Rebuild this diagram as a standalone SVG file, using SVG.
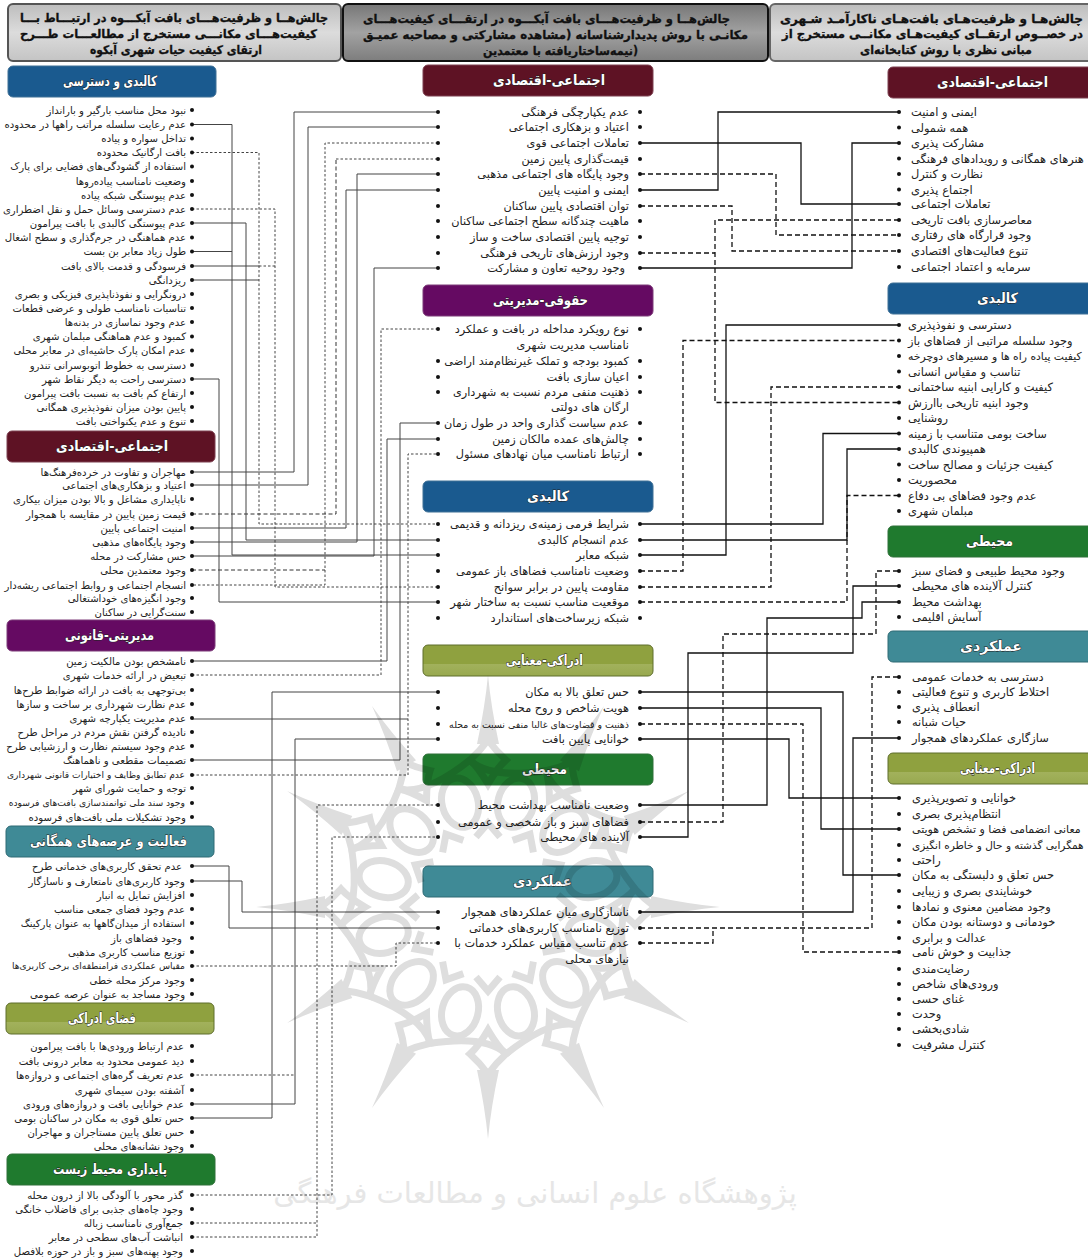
<svg xmlns="http://www.w3.org/2000/svg" xmlns:xlink="http://www.w3.org/1999/xlink" width="1088" height="1258" viewBox="0 0 1088 1258">
<style>
text{font-family:"DejaVu Sans","Noto Sans",sans-serif}
.t{font-size:10.1px;fill:#222}
#middle-items .t{font-size:11.3px}
#right-items .t{font-size:11.4px}
.l{text-anchor:end}
.r{text-anchor:start}
.h{font-size:14px;font-weight:bold;fill:#fff;text-anchor:start;stroke:#222;stroke-width:1px;paint-order:stroke}
.ti{font-size:12px;font-weight:bold;fill:#111;text-anchor:start;stroke:#111;stroke-width:.3px}
.b{fill:#111}
.box{stroke-width:1}
.blue{fill:#1a5a8f;stroke:#3f7096}
.red{fill:#5e1224;stroke:#7d4050}
.pur{fill:#650a62;stroke:#7c3a78}
.teal{fill:#3f8a96;stroke:#2f6a75}
.olv{fill:url(#go);stroke:#5f6e2c}
.grn{fill:#1f7a2e;stroke:#2f7038}
.a{fill:none;stroke:#444;stroke-width:1}
.ad{fill:none;stroke:#444;stroke-width:1;stroke-dasharray:2.5 2}
.am{fill:none;stroke:#333;stroke-width:1;stroke-dasharray:4 2.5}
.c{fill:none;stroke:#111;stroke-width:1.3}
.cd{fill:none;stroke:#111;stroke-width:1.3;stroke-dasharray:5 3}
.w{fill:none;stroke:#000;stroke-width:7}
.ws{fill:#000}
</style>
<defs>
<linearGradient id="g1" x1="0" y1="0" x2="0" y2="1"><stop offset="0" stop-color="#bdbdbd"/><stop offset=".5" stop-color="#dcdcdc"/><stop offset="1" stop-color="#c4c4c4"/></linearGradient>
<linearGradient id="g2" x1="0" y1="0" x2="0" y2="1"><stop offset="0" stop-color="#777"/><stop offset=".5" stop-color="#a2a2a2"/><stop offset="1" stop-color="#7d7d7d"/></linearGradient>
<linearGradient id="go" x1="0" y1="0" x2="0" y2="1"><stop offset="0" stop-color="#8fa13f"/><stop offset=".6" stop-color="#8fa13f"/><stop offset=".62" stop-color="#a2b15c"/><stop offset="1" stop-color="#98a94f"/></linearGradient>
<g id="sector">
<ellipse cx="0" cy="108" rx="18" ry="25" class="w" transform="rotate(15)"/>
<path d="M0,123Q10,140 18,147Q8,156 0,167Q-8,156 -18,147Q-10,140 0,123Z" class="w"/>
<path d="M18,147Q62,112 89,118" class="w"/>
<path d="M-11,163Q-3,200 0,232Q3,200 11,163Z" class="ws"/>
<path d="M-12,70L0,84L12,70" class="w"/>
</g>
</defs>
<rect width="1088" height="1258" fill="#fff"/>
<text x="535" y="1203" font-size="29" fill="#e6e6e6" text-anchor="middle">پژوهشگاه علوم انسانی و مطالعات فرهنگی</text>

<g id="title-1"><rect x="8" y="4" width="333" height="57" rx="5" fill="url(#g1)" stroke="#555" stroke-width="2"/>
<text class="ti" x="20" y="22" textLength="308" lengthAdjust="spacingAndGlyphs">چالش‌هــا و ظرفیت‌هـــای بافت آبکـــوه در ارتبـــاط بـــا</text>
<text class="ti" x="20" y="38" textLength="297" lengthAdjust="spacingAndGlyphs">کیفیت‌هـــای مکانـــی مستخرج از مطالعـــات طـــرح</text>
<text class="ti" x="90" y="54" textLength="172" lengthAdjust="spacingAndGlyphs">ارتقای کیفیت حیات شهری آبکوه</text></g>
<g id="title-2"><rect x="343" y="4" width="425" height="57" rx="5" fill="url(#g2)" stroke="#111" stroke-width="2"/>
<text class="ti" x="363" y="23" textLength="367" lengthAdjust="spacingAndGlyphs">چالش‌هــا و ظرفیت‌هـــای بافت آبکـــوه در ارتقـــای کیفیت‌هـــای</text>
<text class="ti" x="363" y="39" textLength="385" lengthAdjust="spacingAndGlyphs">مکانـی با روش پدیدارشناسانه (مشاهده مشارکتی و مصاحبه عمیـق</text>
<text class="ti" x="483" y="55" textLength="155" lengthAdjust="spacingAndGlyphs">نیمه‌ساختاریافته با معتمدین)</text></g>
<g id="title-3"><rect x="770" y="4" width="330" height="57" rx="5" fill="url(#g1)" stroke="#666" stroke-width="2"/>
<text class="ti" x="780" y="23" textLength="303" lengthAdjust="spacingAndGlyphs">چالش‌هـا و ظرفیت‌هـای بافت‌هـای ناکارآمـد شـهری</text>
<text class="ti" x="782" y="38" textLength="301" lengthAdjust="spacingAndGlyphs">در خصــوص ارتقــای کیفیت‌هـای مکانــی مستخرج از</text>
<text class="ti" x="860" y="54" textLength="172" lengthAdjust="spacingAndGlyphs">مبانی نظری با روش کتابخانه‌ای</text></g>

<g id="headers">
<g id="h-l1"><rect class="box blue" x="8" y="66" width="208" height="31" rx="5"/><text class="h" x="63" y="86" textLength="94" lengthAdjust="spacingAndGlyphs">کالبدی و دسترسی</text></g>
<g id="h-l2"><rect class="box red" x="7" y="431" width="208" height="31" rx="5"/><text class="h" x="56" y="451" textLength="112" lengthAdjust="spacingAndGlyphs">اجتماعی-اقتصادی</text></g>
<g id="h-l3"><rect class="box pur" x="7" y="620" width="208" height="31" rx="5"/><text class="h" x="65" y="640" textLength="89" lengthAdjust="spacingAndGlyphs">مدیریتی-قانونی</text></g>
<g id="h-l4"><rect class="box teal" x="6" y="826" width="208" height="31" rx="5"/><text class="h" x="30" y="846" textLength="157" lengthAdjust="spacingAndGlyphs">فعالیت و عرصه‌های همگانی</text></g>
<g id="h-l5"><rect class="box olv" x="6" y="1003" width="208" height="31" rx="5"/><text class="h" x="68" y="1023" textLength="68" lengthAdjust="spacingAndGlyphs">فضای ادراکی</text></g>
<g id="h-l6"><rect class="box grn" x="7" y="1154" width="208" height="31" rx="5"/><text class="h" x="53" y="1174" textLength="114" lengthAdjust="spacingAndGlyphs">پایداری محیط زیست</text></g>
<g id="h-m1"><rect class="box red" x="423" y="65" width="230" height="31" rx="5"/><text class="h" x="493" y="85" textLength="112" lengthAdjust="spacingAndGlyphs">اجتماعی-اقتصادی</text></g>
<g id="h-m2"><rect class="box pur" x="423" y="285" width="230" height="31" rx="5"/><text class="h" x="493" y="305" textLength="95" lengthAdjust="spacingAndGlyphs">حقوقی-مدیریتی</text></g>
<g id="h-m3"><rect class="box blue" x="423" y="481" width="230" height="31" rx="5"/><text class="h" x="527" y="501" textLength="42" lengthAdjust="spacingAndGlyphs">کالبدی</text></g>
<g id="h-m4"><rect class="box olv" x="423" y="645" width="230" height="31" rx="5"/><text class="h" x="506" y="665" textLength="77" lengthAdjust="spacingAndGlyphs">ادراکی-معنایی</text></g>
<g id="h-m5"><rect class="box grn" x="423" y="754" width="230" height="31" rx="5"/><text class="h" x="522" y="774" textLength="45" lengthAdjust="spacingAndGlyphs">محیطی</text></g>
<g id="h-m6"><rect class="box teal" x="423" y="866" width="230" height="31" rx="5"/><text class="h" x="513" y="886" textLength="59" lengthAdjust="spacingAndGlyphs">عملکردی</text></g>
<g id="h-r1"><rect class="box red" x="888" y="67" width="215" height="31" rx="5"/><text class="h" x="937" y="87" textLength="111" lengthAdjust="spacingAndGlyphs">اجتماعی-اقتصادی</text></g>
<g id="h-r2"><rect class="box blue" x="888" y="283" width="215" height="31" rx="5"/><text class="h" x="977" y="303" textLength="41" lengthAdjust="spacingAndGlyphs">کالبدی</text></g>
<g id="h-r3"><rect class="box grn" x="888" y="526" width="215" height="31" rx="5"/><text class="h" x="966" y="546" textLength="47" lengthAdjust="spacingAndGlyphs">محیطی</text></g>
<g id="h-r4"><rect class="box teal" x="888" y="631" width="215" height="31" rx="5"/><text class="h" x="960" y="651" textLength="62" lengthAdjust="spacingAndGlyphs">عملکردی</text></g>
<g id="h-r5"><rect class="box olv" x="888" y="753" width="215" height="31" rx="5"/><text class="h" x="960" y="773" textLength="75" lengthAdjust="spacingAndGlyphs">ادراکی-معنایی</text></g>
</g>

<g id="connectors">
<path class="a" d="M192 472H294V112H438"/>
<path class="a" d="M192 485H308V127H438"/>
<path class="ad" d="M438 143H325V585H192"/>
<path class="am" d="M192 570H325"/>
<path class="am" d="M192 514H336V159"/>
<path class="ad" d="M336 159H438"/>
<path class="a" d="M192 542H357V174H438"/>
<path class="a" d="M192 528H346V190H438"/>
<path class="a" d="M192 556H374V268H438"/>
<path class="ad" d="M192 152.500H259V524H438"/>
<path class="a" d="M192 223H246V540H438"/>
<path class="a" d="M192 124.500H232V555H438"/>
<path class="a" d="M192 251.500H232"/>
<path class="ad" d="M192 209H275V587H438"/>
<path class="a" d="M192 266H259"/>
<path class="ad" d="M259 266H275"/>
<path class="a" d="M192 280H259"/>
<path class="a" d="M192 379H219V602H438"/>
<path class="a" d="M192 760H400V423H438"/>
<path class="a" d="M192 661H387V439H438"/>
<path class="ad" d="M192 775H408V454H438"/>
<path class="ad" d="M192 675H381V329H438"/>
<path class="a" d="M192 719H408"/>
<path class="a" d="M192 1118H272V692H438"/>
<path class="a" d="M192 1104H295V739H438"/>
<path class="ad" d="M192 1075H295"/>
<path class="ad" d="M192 1237H317V805H438"/>
<path class="ad" d="M192 1223H317"/>
<path class="ad" d="M192 1195H332V837H438"/>
<path class="a" d="M192 881H242V912H438"/>
<path class="a" d="M192 866H229V928H438"/>
<path class="ad" d="M192 966H396V943H438"/>
<path class="c" d="M640 190H718V112H899"/>
<path class="c" d="M640 143H801V204H899"/>
<path class="c" d="M640 268H852V143H899"/>
<path class="cd" d="M640 174H776V235H899"/>
<path class="cd" d="M640 206H732V251H899"/>
<path class="cd" d="M640 253H715"/>
<path class="cd" d="M899 220H715V402.500H899"/>
<path class="cd" d="M640 571H683V340.500H899"/>
<path class="c" d="M640 555H726V325H899"/>
<path class="cd" d="M640 587H771V387H899"/>
<path class="c" d="M640 524H823V433.500H899"/>
<path class="cd" d="M640 602H847V495.500H899"/>
<path class="c" d="M640 540H847V449H899"/>
<path class="cd" d="M640 822H723V634H876V571H899"/>
<path class="c" d="M640 837H688V653H853V586H899"/>
<path class="c" d="M640 805H767V618H862V602H899"/>
<path class="c" d="M640 912H853V738H899"/>
<path class="cd" d="M640 928H872V677H899"/>
<path class="cd" d="M640 943H713V928"/>
<path class="c" d="M640 692H843V875H899"/>
<path class="c" d="M640 708H821V829H899"/>
<path class="cd" d="M640 724H803V952H899"/>
<path class="c" d="M640 739H789V798H899"/>
</g>

<g id="left-items">
<g id="n1"><circle class="b" cx="192" cy="110" r="2"/><text class="t l" x="186" y="113.500">نبود محل مناسب بارگیر و بارانداز</text></g>
<g id="n2"><circle class="b" cx="192" cy="124.500" r="2"/><text class="t l" x="186" y="128">عدم رعایت سلسله مراتب راهها در محدوده</text></g>
<g id="n3"><circle class="b" cx="192" cy="138.500" r="2"/><text class="t l" x="186" y="142">تداخل سواره و پیاده</text></g>
<g id="n4"><circle class="b" cx="192" cy="152.500" r="2"/><text class="t l" x="186" y="156">بافت ارگانیک محدوده</text></g>
<g id="n5"><circle class="b" cx="192" cy="166.500" r="2"/><text class="t l" x="186" y="170">استفاده از گشودگی‌های فضایی برای پارک</text></g>
<g id="n6"><circle class="b" cx="192" cy="181" r="2"/><text class="t l" x="186" y="184.500">وضعیت نامناسب پیاده‌روها</text></g>
<g id="n7"><circle class="b" cx="192" cy="195" r="2"/><text class="t l" x="186" y="198.500">عدم پیوستگی شبکه پیاده</text></g>
<g id="n8"><circle class="b" cx="192" cy="209" r="2"/><text class="t l" x="186" y="212.500">عدم دسترسی وسائل حمل و نقل اضطراری</text></g>
<g id="n9"><circle class="b" cx="192" cy="223" r="2"/><text class="t l" x="186" y="226.500">عدم پیوستگی کالبدی با بافت پیرامون</text></g>
<g id="n10"><circle class="b" cx="192" cy="237.500" r="2"/><text class="t l" x="186" y="241">عدم هماهنگی در جرم‌گذاری و سطح اشغال</text></g>
<g id="n11"><circle class="b" cx="192" cy="251.500" r="2"/><text class="t l" x="186" y="255">طول زیاد معابر بن بست</text></g>
<g id="n12"><circle class="b" cx="192" cy="266" r="2"/><text class="t l" x="186" y="269.500">فرسودگی و قدمت بالای بافت</text></g>
<g id="n13"><circle class="b" cx="192" cy="280" r="2"/><text class="t l" x="186" y="283.500">ریزدانگی</text></g>
<g id="n14"><circle class="b" cx="192" cy="294" r="2"/><text class="t l" x="186" y="297.500">درونگرایی و نفوذناپذیری فیزیکی و بصری</text></g>
<g id="n15"><circle class="b" cx="192" cy="308" r="2"/><text class="t l" x="186" y="311.500">تناسبات نامناسب طولی و عرضی قطعات</text></g>
<g id="n16"><circle class="b" cx="192" cy="322" r="2"/><text class="t l" x="186" y="325.500">عدم وجود نماسازی در بدنه‌ها</text></g>
<g id="n17"><circle class="b" cx="192" cy="336.500" r="2"/><text class="t l" x="186" y="340">کمبود و عدم هماهنگی مبلمان شهری</text></g>
<g id="n18"><circle class="b" cx="192" cy="350.500" r="2"/><text class="t l" x="186" y="354">عدم امکان پارک حاشیه‌ای در معابر محلی</text></g>
<g id="n19"><circle class="b" cx="192" cy="365" r="2"/><text class="t l" x="186" y="368.500">دسترسی به خطوط اتوبوسرانی تندرو</text></g>
<g id="n20"><circle class="b" cx="192" cy="379" r="2"/><text class="t l" x="186" y="382.500">دسترسی راحت به دیگر نقاط شهر</text></g>
<g id="n21"><circle class="b" cx="192" cy="393" r="2"/><text class="t l" x="186" y="396.500">ارتفاع کم بافت به نسبت بافت پیرامون</text></g>
<g id="n22"><circle class="b" cx="192" cy="407" r="2"/><text class="t l" x="186" y="410.500">پایین بودن میزان نفوذپذیری همگانی</text></g>
<g id="n23"><circle class="b" cx="192" cy="421" r="2"/><text class="t l" x="186" y="424.500">تنوع و عدم یکنواختی بافت</text></g>
<g id="n24"><circle class="b" cx="192" cy="472" r="2"/><text class="t l" x="186" y="475.500">مهاجران و تفاوت در خرده‌فرهنگ‌ها</text></g>
<g id="n25"><circle class="b" cx="192" cy="485" r="2"/><text class="t l" x="186" y="488.500">اعتیاد و بزهکاری‌های اجتماعی</text></g>
<g id="n26"><circle class="b" cx="192" cy="499" r="2"/><text class="t l" x="186" y="502.500">ناپایداری مشاغل و بالا بودن میزان بیکاری</text></g>
<g id="n27"><circle class="b" cx="192" cy="514" r="2"/><text class="t l" x="186" y="517.500">قیمت زمین پایین در مقایسه با همجوار</text></g>
<g id="n28"><circle class="b" cx="192" cy="528" r="2"/><text class="t l" x="186" y="531.500">امنیت اجتماعی پایین</text></g>
<g id="n29"><circle class="b" cx="192" cy="542" r="2"/><text class="t l" x="186" y="545.500">وجود پایگاه‌های مذهبی</text></g>
<g id="n30"><circle class="b" cx="192" cy="556" r="2"/><text class="t l" x="186" y="559.500">حس مشارکت در محله</text></g>
<g id="n31"><circle class="b" cx="192" cy="570" r="2"/><text class="t l" x="186" y="573.500">وجود معتمدین محلی</text></g>
<g id="n32"><circle class="b" cx="192" cy="585" r="2"/><text class="t l" x="186" y="588.500">انسجام اجتماعی و روابط اجتماعی ریشه‌دار</text></g>
<g id="n33"><circle class="b" cx="192" cy="598" r="2"/><text class="t l" x="186" y="601.500">وجود انگیزه‌های خوداشتغالی</text></g>
<g id="n34"><circle class="b" cx="192" cy="612" r="2"/><text class="t l" x="186" y="615.500">سنت‌گرایی در ساکنان</text></g>
<g id="n35"><circle class="b" cx="192" cy="661" r="2"/><text class="t l" x="186" y="664.500">نامشخص بودن مالکیت زمین</text></g>
<g id="n36"><circle class="b" cx="192" cy="675" r="2"/><text class="t l" x="186" y="678.500">تبعیض در ارائه خدمات شهری</text></g>
<g id="n37"><circle class="b" cx="192" cy="690" r="2"/><text class="t l" x="186" y="693.500">بی‌توجهی به بافت در ارائه ضوابط طرح‌ها</text></g>
<g id="n38"><circle class="b" cx="192" cy="704" r="2"/><text class="t l" x="186" y="707.500">عدم نظارت شهرداری بر ساخت و سازها</text></g>
<g id="n39"><circle class="b" cx="192" cy="718" r="2"/><text class="t l" x="186" y="721.500">عدم مدیریت یکپارچه شهری</text></g>
<g id="n40"><circle class="b" cx="192" cy="732" r="2"/><text class="t l" x="186" y="735.500">نادیده گرفتن نقش مردم در مراحل طرح</text></g>
<g id="n41"><circle class="b" cx="192" cy="746" r="2"/><text class="t l" x="186" y="749.500">عدم وجود سیستم نظارت و ارزشیابی طرح</text></g>
<g id="n42"><circle class="b" cx="192" cy="760" r="2"/><text class="t l" x="186" y="763.500">تصمیمات مقطعی و ناهماهنگ</text></g>
<g id="n43"><circle class="b" cx="192" cy="775" r="2"/><text class="t l" x="185" y="778" style="font-size:9.1px">عدم تطابق وظایف و اختیارات قانونی شهرداری</text></g>
<g id="n44"><circle class="b" cx="192" cy="788" r="2"/><text class="t l" x="186" y="791.500">توجه و حمایت شورای شهر</text></g>
<g id="n45"><circle class="b" cx="192" cy="803" r="2"/><text class="t l" x="185" y="806" style="font-size:9.2px">وجود سند ملی توانمندسازی بافت‌های فرسوده</text></g>
<g id="n46"><circle class="b" cx="192" cy="817" r="2"/><text class="t l" x="186" y="820.500">وجود تشکیلات ملی بافت‌های فرسوده</text></g>
<g id="n47"><circle class="b" cx="192" cy="866" r="2"/><text class="t l" x="182" y="869.500">عدم تحقق کاربری‌های خدماتی طرح</text></g>
<g id="n48"><circle class="b" cx="192" cy="881" r="2"/><text class="t l" x="185" y="884.500">وجود کاربری‌های نامتعارف و ناسازگار</text></g>
<g id="n49"><circle class="b" cx="192" cy="895" r="2"/><text class="t l" x="185" y="898.500">افزایش تمایل به انبار</text></g>
<g id="n50"><circle class="b" cx="192" cy="909" r="2"/><text class="t l" x="185" y="912.500">عدم وجود فضای جمعی مناسب</text></g>
<g id="n51"><circle class="b" cx="192" cy="923" r="2"/><text class="t l" x="185" y="926.500">استفاده از میدان‌گاهها به عنوان پارکینگ</text></g>
<g id="n52"><circle class="b" cx="192" cy="938" r="2"/><text class="t l" x="182" y="941.500">وجود فضاهای باز</text></g>
<g id="n53"><circle class="b" cx="192" cy="952" r="2"/><text class="t l" x="185" y="955.500">توزیع مناسب کاربری مذهبی</text></g>
<g id="n54"><circle class="b" cx="192" cy="966" r="2"/><text class="t l" x="185" y="969" style="font-size:9.1px">مقیاس عملکردی فرامنطقه‌ای برخی کاربری‌ها</text></g>
<g id="n55"><circle class="b" cx="192" cy="980" r="2"/><text class="t l" x="185" y="983.500">وجود مرکز محله خطی</text></g>
<g id="n56"><circle class="b" cx="192" cy="994" r="2"/><text class="t l" x="185" y="997.500">وجود مساجد به عنوان عرصه عمومی</text></g>
<g id="n57"><circle class="b" cx="192" cy="1046" r="2"/><text class="t l" x="184" y="1049.500">عدم ارتباط ورودی‌ها با بافت پیرامون</text></g>
<g id="n58"><circle class="b" cx="192" cy="1061" r="2"/><text class="t l" x="184" y="1064.500">دید عمومی محدود به معابر درونی بافت</text></g>
<g id="n59"><circle class="b" cx="192" cy="1075" r="2"/><text class="t l" x="184" y="1078.500">عدم تعریف گره‌های اجتماعی و دروازه‌ها</text></g>
<g id="n60"><circle class="b" cx="192" cy="1090" r="2"/><text class="t l" x="184" y="1093.500">آشفته بودن سیمای شهری</text></g>
<g id="n61"><circle class="b" cx="192" cy="1104" r="2"/><text class="t l" x="184" y="1107.500">عدم خوانایی بافت و دروازه‌های ورودی</text></g>
<g id="n62"><circle class="b" cx="192" cy="1118" r="2"/><text class="t l" x="184" y="1121.500">حس تعلق قوی به مکان در ساکنان بومی</text></g>
<g id="n63"><circle class="b" cx="192" cy="1132" r="2"/><text class="t l" x="184" y="1135.500">حس تعلق پایین مستاجران و مهاجران</text></g>
<g id="n64"><circle class="b" cx="192" cy="1146" r="2"/><text class="t l" x="184" y="1149.500">وجود نشانه‌های محلی</text></g>
<g id="n65"><circle class="b" cx="192" cy="1195" r="2"/><text class="t l" x="183" y="1198.500">گذر محور با آلودگی بالا از درون محله</text></g>
<g id="n66"><circle class="b" cx="192" cy="1209" r="2"/><text class="t l" x="183" y="1212.500">وجود چاه‌های جذبی برای فاضلاب خانگی</text></g>
<g id="n67"><circle class="b" cx="192" cy="1223" r="2"/><text class="t l" x="183" y="1226.500">جمع‌آوری نامناسب زباله</text></g>
<g id="n68"><circle class="b" cx="192" cy="1237" r="2"/><text class="t l" x="183" y="1240.500">انباشت آب‌های سطحی در معابر</text></g>
<g id="n69"><circle class="b" cx="192" cy="1251" r="2"/><text class="t l" x="183" y="1254.500">وجود پهنه‌های سبز و باز در حوزه بلافصل</text></g>
</g>

<g id="middle-items">
<g id="m1"><circle class="b" cx="438" cy="112" r="2"/><circle class="b" cx="640" cy="112" r="2"/><text class="t l" x="629" y="116">عدم یکپارچگی فرهنگی</text></g>
<g id="m2"><circle class="b" cx="438" cy="127" r="2"/><circle class="b" cx="640" cy="127" r="2"/><text class="t l" x="629" y="131">اعتیاد و بزهکاری اجتماعی</text></g>
<g id="m3"><circle class="b" cx="438" cy="143" r="2"/><circle class="b" cx="640" cy="143" r="2"/><text class="t l" x="629" y="147">تعاملات اجتماعی قوی</text></g>
<g id="m4"><circle class="b" cx="438" cy="159" r="2"/><circle class="b" cx="640" cy="159" r="2"/><text class="t l" x="629" y="163">قیمت‌گذاری پایین زمین</text></g>
<g id="m5"><circle class="b" cx="438" cy="174" r="2"/><circle class="b" cx="640" cy="174" r="2"/><text class="t l" x="629" y="178">وجود پایگاه های اجتماعی مذهبی</text></g>
<g id="m6"><circle class="b" cx="438" cy="190" r="2"/><circle class="b" cx="640" cy="190" r="2"/><text class="t l" x="629" y="194">ایمنی و امنیت پایین</text></g>
<g id="m7"><circle class="b" cx="438" cy="206" r="2"/><circle class="b" cx="640" cy="206" r="2"/><text class="t l" x="629" y="210">توان اقتصادی پایین ساکنان</text></g>
<g id="m8"><circle class="b" cx="438" cy="221" r="2"/><circle class="b" cx="640" cy="221" r="2"/><text class="t l" x="629" y="225">ماهیت چندگانه سطح اجتماعی ساکنان</text></g>
<g id="m9"><circle class="b" cx="438" cy="237" r="2"/><circle class="b" cx="640" cy="237" r="2"/><text class="t l" x="629" y="241">توجیه پایین اقتصادی ساخت و ساز</text></g>
<g id="m10"><circle class="b" cx="438" cy="253" r="2"/><circle class="b" cx="640" cy="253" r="2"/><text class="t l" x="629" y="257">وجود ارزش‌های تاریخی فرهنگی</text></g>
<g id="m11"><circle class="b" cx="438" cy="268" r="2"/><circle class="b" cx="640" cy="268" r="2"/><text class="t l" x="625" y="272">وجود روحیه تعاون و مشارکت</text></g>
<g id="m12"><circle class="b" cx="438" cy="329" r="2"/><circle class="b" cx="640" cy="329" r="2"/><text class="t l" x="629" y="333">نوع رویکرد مداخله در بافت و عملکرد</text><text class="t l" x="629" y="349">نامناسب مدیریت شهری</text></g>
<g id="m13"><circle class="b" cx="438" cy="361" r="2"/><circle class="b" cx="640" cy="361" r="2"/><text class="t l" x="629" y="365">کمبود بودجه و تملک غیرنظام‌مند اراضی</text></g>
<g id="m14"><circle class="b" cx="438" cy="377" r="2"/><circle class="b" cx="640" cy="377" r="2"/><text class="t l" x="629" y="381">اعیان سازی بافت</text></g>
<g id="m15"><circle class="b" cx="438" cy="392" r="2"/><circle class="b" cx="640" cy="392" r="2"/><text class="t l" x="629" y="396">ذهنیت منفی مردم نسبت به شهرداری</text><text class="t l" x="629" y="411">ارگان های دولتی</text></g>
<g id="m16"><circle class="b" cx="438" cy="423" r="2"/><circle class="b" cx="640" cy="423" r="2"/><text class="t l" x="629" y="427">عدم سیاست گذاری واحد در طول زمان</text></g>
<g id="m17"><circle class="b" cx="438" cy="439" r="2"/><circle class="b" cx="640" cy="439" r="2"/><text class="t l" x="629" y="443">چالش‌های عمده مالکان زمین</text></g>
<g id="m18"><circle class="b" cx="438" cy="454" r="2"/><circle class="b" cx="640" cy="454" r="2"/><text class="t l" x="629" y="458">ارتباط نامناسب میان نهادهای مسئول</text></g>
<g id="m19"><circle class="b" cx="438" cy="524" r="2"/><circle class="b" cx="640" cy="524" r="2"/><text class="t l" x="629" y="528">شرایط فرمی زمینه‌ی ریزدانه و قدیمی</text></g>
<g id="m20"><circle class="b" cx="438" cy="540" r="2"/><circle class="b" cx="640" cy="540" r="2"/><text class="t l" x="629" y="544">عدم انسجام کالبدی</text></g>
<g id="m21"><circle class="b" cx="438" cy="555" r="2"/><circle class="b" cx="640" cy="555" r="2"/><text class="t l" x="629" y="559">شبکه معابر</text></g>
<g id="m22"><circle class="b" cx="438" cy="571" r="2"/><circle class="b" cx="640" cy="571" r="2"/><text class="t l" x="629" y="575">وضعیت نامناسب فضاهای باز عمومی</text></g>
<g id="m23"><circle class="b" cx="438" cy="587" r="2"/><circle class="b" cx="640" cy="587" r="2"/><text class="t l" x="629" y="591">مقاومت پایین در برابر سوانح</text></g>
<g id="m24"><circle class="b" cx="438" cy="602" r="2"/><circle class="b" cx="640" cy="602" r="2"/><text class="t l" x="629" y="606">موقعیت مناسب نسبت به ساختار شهر</text></g>
<g id="m25"><circle class="b" cx="438" cy="618" r="2"/><circle class="b" cx="640" cy="618" r="2"/><text class="t l" x="629" y="622">شبکه زیرساخت‌های استاندارد</text></g>
<g id="m26"><circle class="b" cx="438" cy="692" r="2"/><circle class="b" cx="640" cy="692" r="2"/><text class="t l" x="629" y="696">حس تعلق بالا به مکان</text></g>
<g id="m27"><circle class="b" cx="438" cy="708" r="2"/><circle class="b" cx="640" cy="708" r="2"/><text class="t l" x="629" y="712">هویت شاخص و روح محله</text></g>
<g id="m28"><circle class="b" cx="438" cy="724" r="2"/><circle class="b" cx="640" cy="724" r="2"/><text class="t l" x="629" y="727.500" style="font-size:9.4px">ذهنیت و قضاوت‌های غالبا منفی نسبت به محله</text></g>
<g id="m29"><circle class="b" cx="438" cy="739" r="2"/><circle class="b" cx="640" cy="739" r="2"/><text class="t l" x="629" y="743">خوانایی پایین بافت</text></g>
<g id="m30"><circle class="b" cx="438" cy="805" r="2"/><circle class="b" cx="640" cy="805" r="2"/><text class="t l" x="629" y="809">وضعیت نامناسب بهداشت محیط</text></g>
<g id="m31"><circle class="b" cx="438" cy="822" r="2"/><circle class="b" cx="640" cy="822" r="2"/><text class="t l" x="629" y="826">فضاهای سبز و باز شخصی و عمومی</text></g>
<g id="m32"><circle class="b" cx="438" cy="837" r="2"/><circle class="b" cx="640" cy="837" r="2"/><text class="t l" x="629" y="841">آلاینده های محیطی</text></g>
<g id="m33"><circle class="b" cx="438" cy="912" r="2"/><circle class="b" cx="640" cy="912" r="2"/><text class="t l" x="629" y="916">ناسازگاری میان عملکردهای همجوار</text></g>
<g id="m34"><circle class="b" cx="438" cy="928" r="2"/><circle class="b" cx="640" cy="928" r="2"/><text class="t l" x="629" y="932">توزیع نامناسب کاربری‌های خدماتی</text></g>
<g id="m35"><circle class="b" cx="438" cy="943" r="2"/><circle class="b" cx="640" cy="943" r="2"/><text class="t l" x="629" y="947">عدم تناسب مقیاس عملکرد خدمات با</text><text class="t l" x="629" y="963">نیازهای محلی</text></g>
</g>

<g id="right-items">
<g id="r1"><circle class="b" cx="899" cy="112" r="2"/><text class="t r" x="911" y="116">ایمنی و امنیت</text></g>
<g id="r2"><circle class="b" cx="899" cy="127.500" r="2"/><text class="t r" x="911" y="131.500">همه شمولی</text></g>
<g id="r3"><circle class="b" cx="899" cy="143" r="2"/><text class="t r" x="911" y="147">مشارکت پذیری</text></g>
<g id="r4"><circle class="b" cx="899" cy="158.500" r="2"/><text class="t r" x="911" y="162.500">هنرهای همگانی و رویدادهای فرهنگی</text></g>
<g id="r5"><circle class="b" cx="899" cy="174" r="2"/><text class="t r" x="911" y="178">نظارت و کنترل</text></g>
<g id="r6"><circle class="b" cx="899" cy="189.500" r="2"/><text class="t r" x="911" y="193.500">اجتماع پذیری</text></g>
<g id="r7"><circle class="b" cx="899" cy="204" r="2"/><text class="t r" x="911" y="208">تعاملات اجتماعی</text></g>
<g id="r8"><circle class="b" cx="899" cy="220" r="2"/><text class="t r" x="911" y="224">معاصرسازی بافت تاریخی</text></g>
<g id="r9"><circle class="b" cx="899" cy="235" r="2"/><text class="t r" x="911" y="239">وجود قرارگاه های رفتاری</text></g>
<g id="r10"><circle class="b" cx="899" cy="251" r="2"/><text class="t r" x="911" y="255">تنوع فعالیت‌های اقتصادی</text></g>
<g id="r11"><circle class="b" cx="899" cy="267" r="2"/><text class="t r" x="911" y="271">سرمایه و اعتماد اجتماعی</text></g>
<g id="r12"><circle class="b" cx="899" cy="325" r="2"/><text class="t r" x="908" y="329">دسترسی و نفوذپذیری</text></g>
<g id="r13"><circle class="b" cx="899" cy="340.500" r="2"/><text class="t r" x="908" y="344.500">وجود سلسله مراتبی از فضاهای باز</text></g>
<g id="r14"><circle class="b" cx="899" cy="356" r="2"/><text class="t r" x="908" y="360" style="font-size:10.8px">کیفیت پیاده راه ها و مسیرهای دوچرخه</text></g>
<g id="r15"><circle class="b" cx="899" cy="371.500" r="2"/><text class="t r" x="908" y="375.500">تناسب و مقیاس انسانی</text></g>
<g id="r16"><circle class="b" cx="899" cy="387" r="2"/><text class="t r" x="908" y="391">کیفیت و کارایی ابنیه ساختمانی</text></g>
<g id="r17"><circle class="b" cx="899" cy="402.500" r="2"/><text class="t r" x="908" y="406.500">وجود ابنیه تاریخی باارزش</text></g>
<g id="r18"><circle class="b" cx="899" cy="418" r="2"/><text class="t r" x="908" y="422">روشنایی</text></g>
<g id="r19"><circle class="b" cx="899" cy="433.500" r="2"/><text class="t r" x="908" y="437.500">ساخت بومی متناسب با زمینه</text></g>
<g id="r20"><circle class="b" cx="899" cy="449" r="2"/><text class="t r" x="908" y="453">همپیوندی کالبدی</text></g>
<g id="r21"><circle class="b" cx="899" cy="464.500" r="2"/><text class="t r" x="908" y="468.500">کیفیت جزئیات و مصالح ساخت</text></g>
<g id="r22"><circle class="b" cx="899" cy="480" r="2"/><text class="t r" x="908" y="484">محصوریت</text></g>
<g id="r23"><circle class="b" cx="899" cy="495.500" r="2"/><text class="t r" x="908" y="499.500">عدم وجود فضاهای بی دفاع</text></g>
<g id="r24"><circle class="b" cx="899" cy="511" r="2"/><text class="t r" x="908" y="515">مبلمان شهری</text></g>
<g id="r25"><circle class="b" cx="899" cy="571" r="2"/><text class="t r" x="912" y="575">وجود محیط طبیعی و فضای سبز</text></g>
<g id="r26"><circle class="b" cx="899" cy="586" r="2"/><text class="t r" x="912" y="590">کنترل آلاینده های محیطی</text></g>
<g id="r27"><circle class="b" cx="899" cy="602" r="2"/><text class="t r" x="912" y="606">بهداشت محیط</text></g>
<g id="r28"><circle class="b" cx="899" cy="617" r="2"/><text class="t r" x="912" y="621">آسایش اقلیمی</text></g>
<g id="r29"><circle class="b" cx="899" cy="677" r="2"/><text class="t r" x="912" y="681">دسترسی به خدمات عمومی</text></g>
<g id="r30"><circle class="b" cx="899" cy="692" r="2"/><text class="t r" x="912" y="696">اختلاط کاربری و تنوع فعالیتی</text></g>
<g id="r31"><circle class="b" cx="899" cy="707" r="2"/><text class="t r" x="912" y="711">انعطاف پذیری</text></g>
<g id="r32"><circle class="b" cx="899" cy="722" r="2"/><text class="t r" x="912" y="726">حیات شبانه</text></g>
<g id="r33"><circle class="b" cx="899" cy="738" r="2"/><text class="t r" x="912" y="742">سازگاری عملکردهای همجوار</text></g>
<g id="r34"><circle class="b" cx="899" cy="798" r="2"/><text class="t r" x="912" y="802">خوانایی و تصویرپذیری</text></g>
<g id="r35"><circle class="b" cx="899" cy="814" r="2"/><text class="t r" x="912" y="818">انتظام‌پذیری بصری</text></g>
<g id="r36"><circle class="b" cx="899" cy="829" r="2"/><text class="t r" x="912" y="833" style="font-size:11px">معانی انضمامی فضا و تشخص هویتی</text></g>
<g id="r37"><circle class="b" cx="899" cy="845" r="2"/><text class="t r" x="912" y="849" style="font-size:10.5px">همگرایی گذشته و حال و خاطره انگیزی</text></g>
<g id="r38"><circle class="b" cx="899" cy="860" r="2"/><text class="t r" x="912" y="864">راحتی</text></g>
<g id="r39"><circle class="b" cx="899" cy="875" r="2"/><text class="t r" x="912" y="879">حس تعلق و دلبستگی به مکان</text></g>
<g id="r40"><circle class="b" cx="899" cy="891" r="2"/><text class="t r" x="912" y="895">خوشایندی بصری و زیبایی</text></g>
<g id="r41"><circle class="b" cx="899" cy="907" r="2"/><text class="t r" x="912" y="911">وجود مضامین معنوی و نمادها</text></g>
<g id="r42"><circle class="b" cx="899" cy="922" r="2"/><text class="t r" x="912" y="926">خودمانی و دوستانه بودن مکان</text></g>
<g id="r43"><circle class="b" cx="899" cy="938" r="2"/><text class="t r" x="912" y="942">عدالت و برابری</text></g>
<g id="r44"><circle class="b" cx="899" cy="952" r="2"/><text class="t r" x="912" y="956">جذابیت و خوش نامی</text></g>
<g id="r45"><circle class="b" cx="899" cy="969" r="2"/><text class="t r" x="912" y="973">رضایت‌مندی</text></g>
<g id="r46"><circle class="b" cx="899" cy="984" r="2"/><text class="t r" x="912" y="988">ورودی‌های شاخص</text></g>
<g id="r47"><circle class="b" cx="899" cy="999" r="2"/><text class="t r" x="912" y="1003">غنای حسی</text></g>
<g id="r48"><circle class="b" cx="899" cy="1014" r="2"/><text class="t r" x="912" y="1018">وحدت</text></g>
<g id="r49"><circle class="b" cx="899" cy="1029" r="2"/><text class="t r" x="912" y="1033">شادی‌بخشی</text></g>
<g id="r50"><circle class="b" cx="899" cy="1045" r="2"/><text class="t r" x="912" y="1049">کنترل مشرفیت</text></g>
</g>

<g id="watermark" transform="translate(488 907)" opacity=".13">
<use xlink:href="#sector" href="#sector"/>
<use xlink:href="#sector" href="#sector" transform="rotate(30)"/>
<use xlink:href="#sector" href="#sector" transform="rotate(60)"/>
<use xlink:href="#sector" href="#sector" transform="rotate(90)"/>
<use xlink:href="#sector" href="#sector" transform="rotate(120)"/>
<use xlink:href="#sector" href="#sector" transform="rotate(150)"/>
<use xlink:href="#sector" href="#sector" transform="rotate(180)"/>
<use xlink:href="#sector" href="#sector" transform="rotate(210)"/>
<use xlink:href="#sector" href="#sector" transform="rotate(240)"/>
<use xlink:href="#sector" href="#sector" transform="rotate(270)"/>
<use xlink:href="#sector" href="#sector" transform="rotate(300)"/>
<use xlink:href="#sector" href="#sector" transform="rotate(330)"/>
</g>
</svg>
